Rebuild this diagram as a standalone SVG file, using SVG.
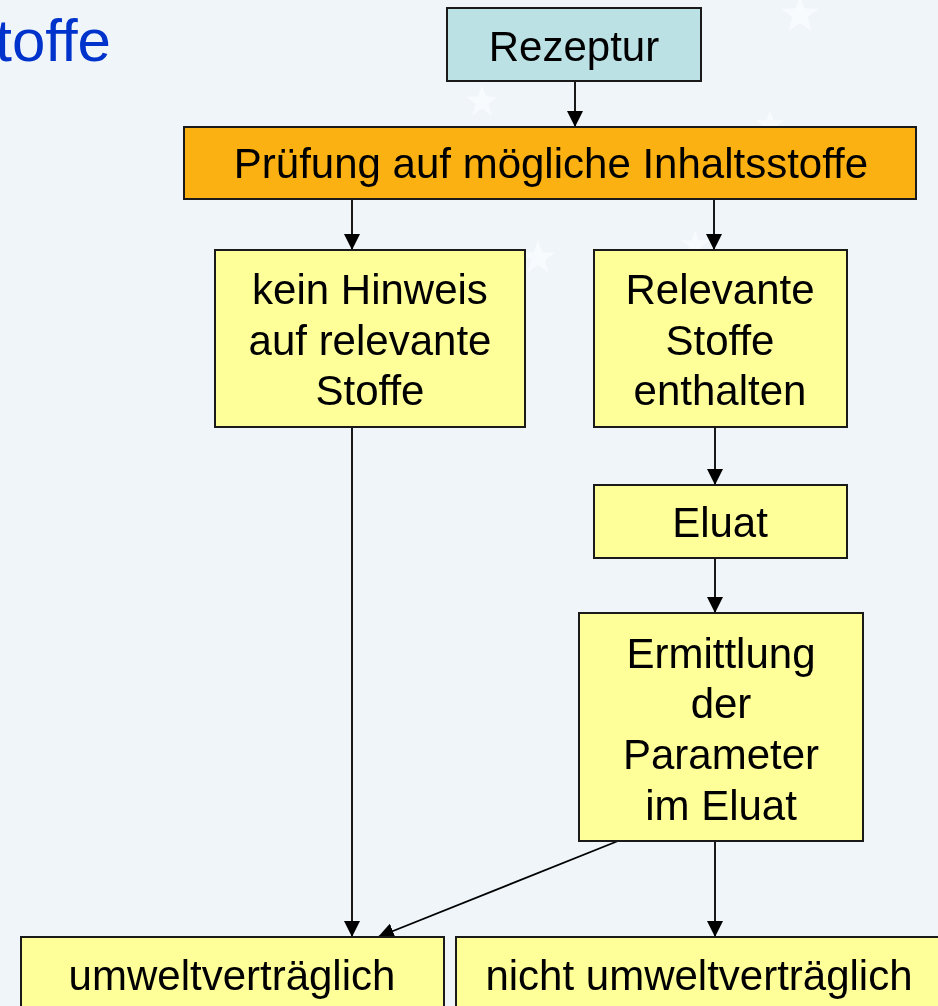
<svg xmlns="http://www.w3.org/2000/svg" width="938" height="1006" viewBox="0 0 938 1006">
<defs>
<marker id="arrL" viewBox="0 0 16 16" refX="16" refY="8" markerWidth="16" markerHeight="16" markerUnits="userSpaceOnUse" orient="auto">
<path d="M0,0 L16,8 L0,16 z" fill="#000"/>
</marker>
<symbol id="star" viewBox="-10 -10 20 20">
<polygon points="0,-10 2.4,-3.2 9.5,-3.1 3.8,1.2 5.9,8.1 0,4 -5.9,8.1 -3.8,1.2 -9.5,-3.1 -2.4,-3.2" fill="#fff"/>
</symbol>
</defs>
<style>
.box{stroke:#1a1a1a;stroke-width:2}
.yel{fill:#ffff99}
.t{font-family:"Liberation Sans",Arial,sans-serif;font-size:42px;fill:#000;text-anchor:middle}
.c{stroke:#000;stroke-width:1.8;fill:none;marker-end:url(#arrL)}
</style>
<rect width="938" height="1006" fill="#f0f5fa"/>
<g id="stars" opacity="0.55">
<use href="#star" x="780" y="-5" width="40" height="40"/>
<use href="#star" x="465" y="85" width="34" height="34"/>
<use href="#star" x="755" y="110" width="30" height="30"/>
<use href="#star" x="520" y="240" width="36" height="36"/>
<use href="#star" x="680" y="230" width="30" height="30"/>
</g>
<text id="title" x="111" y="61" font-family="Liberation Sans, Arial, sans-serif" font-size="60" fill="#0033cc" text-anchor="end">toffe</text>
<g id="connectors">
<line class="c" x1="575" y1="81" x2="575" y2="127"/>
<line class="c" x1="352" y1="199" x2="352" y2="250"/>
<line class="c" x1="714" y1="199" x2="714" y2="250"/>
<line class="c" x1="352" y1="427" x2="352" y2="937"/>
<line class="c" x1="715" y1="427" x2="715" y2="485"/>
<line class="c" x1="715" y1="558" x2="715" y2="613"/>
<line class="c" x1="618" y1="841" x2="378" y2="937"/>
<line class="c" x1="715" y1="841" x2="715" y2="937"/>
</g>
<g id="rezeptur">
<rect class="box" x="447" y="8" width="254" height="73" fill="#bce1e4"/>
<text class="t" x="574" y="61">Rezeptur</text>
</g>
<g id="pruefung">
<rect class="box" x="184" y="127" width="732" height="72" fill="#fab111"/>
<text class="t" x="551" y="178">Prüfung auf mögliche Inhaltsstoffe</text>
</g>
<g id="kein-hinweis">
<rect class="box yel" x="215" y="250" width="310" height="177"/>
<text class="t" x="370" y="304">kein Hinweis</text>
<text class="t" x="370" y="355">auf relevante</text>
<text class="t" x="370" y="405">Stoffe</text>
</g>
<g id="relevante">
<rect class="box yel" x="594" y="250" width="253" height="177"/>
<text class="t" x="720" y="304">Relevante</text>
<text class="t" x="720" y="355">Stoffe</text>
<text class="t" x="720" y="405">enthalten</text>
</g>
<g id="eluat">
<rect class="box yel" x="594" y="485" width="253" height="73"/>
<text class="t" x="720" y="537">Eluat</text>
</g>
<g id="ermittlung">
<rect class="box yel" x="579" y="613" width="284" height="228"/>
<text class="t" x="721" y="668">Ermittlung</text>
<text class="t" x="721" y="718">der</text>
<text class="t" x="721" y="769">Parameter</text>
<text class="t" x="721" y="820">im Eluat</text>
</g>
<g id="umweltvertraeglich">
<rect class="box yel" x="21" y="937" width="423" height="90"/>
<text class="t" x="232" y="990">umweltverträglich</text>
</g>
<g id="nicht-umweltvertraeglich">
<rect class="box yel" x="456" y="937" width="500" height="90"/>
<text class="t" x="699" y="990">nicht umweltverträglich</text>
</g>
</svg>
